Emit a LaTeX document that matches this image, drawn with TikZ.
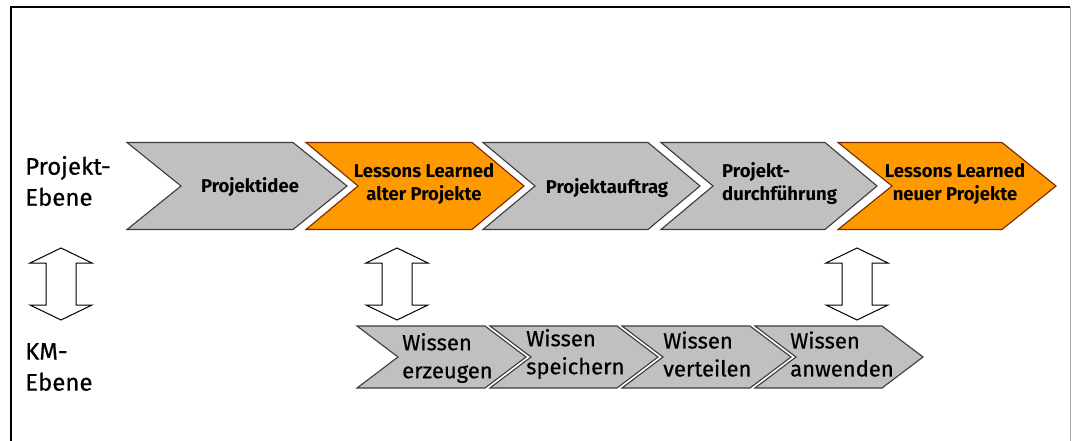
\documentclass[tikz,border=0pt]{standalone}
\usepackage{fontspec}
\setmainfont{Fira Sans}
\newfontfamily\medfont{Fira Sans}[FakeBold=0.5]
\definecolor{chevgrey}{RGB}{192,192,192}
\definecolor{chevgreyline}{RGB}{60,60,60}
\definecolor{chevorange}{RGB}{255,153,0}
\definecolor{chevorangeline}{RGB}{120,40,0}
% chevron: style, left x, top y, top width, height, point depth
\newcommand\chevronpath[6]{%
  \draw[#1] (#2,#3) -- ++(#4,0) -- ++(#6,#5/2) -- ++(-#6,#5/2) -- ++(-#4,0)
    -- ++(#6,-#5/2) -- cycle;}
% vertical double-headed block arrow centred at x
\newcommand\linkarrow[1]{%
  \draw[linkstyle] (#1,248) -- (#1+31,263) -- (#1+15,263) -- (#1+15,305)
    -- (#1+31,305) -- (#1,320) -- (#1-31,305) -- (#1-15,305) -- (#1-15,263)
    -- (#1-31,263) -- cycle;}
\begin{document}
\begin{tikzpicture}[x=1pt,y=-1pt,
  greychev/.style={fill=chevgrey,draw=chevgreyline,line width=1.1pt},
  orangechev/.style={fill=chevorange,draw=chevorangeline,line width=1.1pt},
  linkstyle/.style={fill=white,draw=black,line width=1pt},
  levellabel/.style={font=\fontsize{24}{31}\selectfont\medfont,align=left,anchor=west,inner sep=0pt},
  toplabel/.style={font=\fontsize{18.5}{23}\selectfont\bfseries,align=center,inner sep=0pt},
  toplabelleft/.style={toplabel,align=left,anchor=west},
  knowlabel/.style={font=\fontsize{22}{28}\selectfont\medfont,align=left,anchor=west,inner sep=0pt}]
\useasboundingbox (0,0) rectangle (1073,441);
\fill[white] (0,0) rectangle (1073,441);

% frame
\draw[line width=1.4pt] (11,441) -- (11,7) -- (1070,7);
\draw[black!35,line width=0.8pt] (1070,7) -- (1070,441);

% project level
\chevronpath{greychev}{127}{142.5}{166}{87}{54}
\chevronpath{orangechev}{306}{142.5}{166}{87}{52}
\chevronpath{greychev}{483}{142.5}{165}{87}{52}
\chevronpath{greychev}{661}{142.5}{164}{87}{52}
\chevronpath{orangechev}{838}{142.5}{164}{87}{54}

\node[toplabel] (idee) at (250,187) {Projektidee};
\node[toplabel] (llalt) at (424,184) {Lessons Learned\\alter Projekte};
\node[toplabel] (auftrag) at (607,188) {Projektauftrag};
\node[toplabelleft] (durch) at (722,184) {Projekt-\\durchführung};
\node[toplabel] (llneu) at (955,184) {Lessons Learned\\neuer Projekte};

% knowledge management level
\chevronpath{greychev}{357}{326}{128}{62}{41}
\chevronpath{greychev}{490}{326}{127}{62}{41}
\chevronpath{greychev}{622}{326}{128}{62}{41}
\chevronpath{greychev}{755}{326}{127}{62}{41}

\node[knowlabel] (erzeugen) at (402,358) {Wissen\\erzeugen};
\node[knowlabel] (speichern) at (526,354) {Wissen\\speichern};
\node[knowlabel] (verteilen) at (663,354) {Wissen\\verteilen};
\node[knowlabel] (anwenden) at (790,354) {Wissen\\anwenden};

% level labels
\node[levellabel] (projebene) at (25,181) {Projekt-\\Ebene};
\node[levellabel] (kmebene) at (25,367) {KM-\\Ebene};

% links between the levels
\linkarrow{61}
\linkarrow{397}
\linkarrow{857}
\end{tikzpicture}
\end{document}
